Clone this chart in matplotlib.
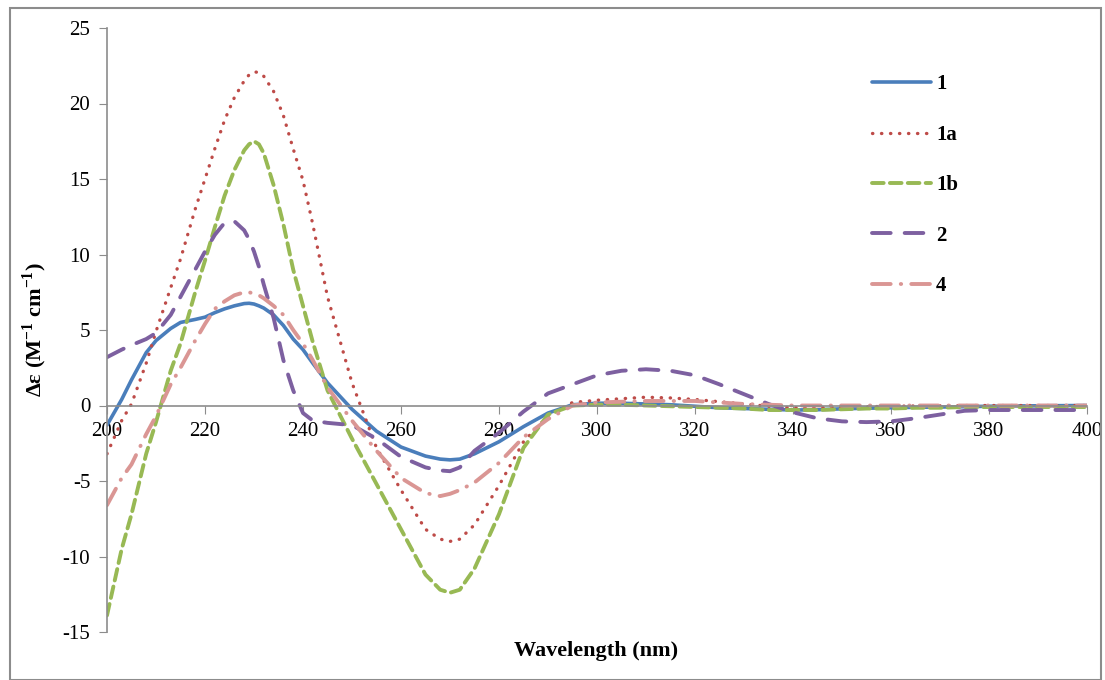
import matplotlib
matplotlib.use("Agg")
import matplotlib.pyplot as plt
from matplotlib.patches import Rectangle

plt.rcParams['font.family'] = ['Liberation Serif', 'DejaVu Serif']
plt.rcParams['axes.unicode_minus'] = False

# wavelengths (nm)
wl = [200, 203, 205, 208, 210, 213, 215, 218, 220, 222, 224, 226, 228, 229, 230, 231, 232, 234, 236, 238,
      240, 242, 245, 250, 255, 260, 265, 268, 270, 272, 275, 280, 285, 290, 295, 300, 305, 310,
      315, 320, 325, 330, 335, 340, 345, 350, 355, 360, 365, 370, 375, 380, 390, 400]

s1 = [-1.3, 0.4, 1.7, 3.5, 4.3, 5.1, 5.5, 5.7, 5.85, 6.15, 6.4, 6.6, 6.75, 6.77, 6.72, 6.6, 6.45, 6.0, 5.3, 4.4,
      3.7, 2.8, 1.5, -0.25, -1.7, -2.75, -3.35, -3.55, -3.6, -3.55, -3.2, -2.4, -1.4, -0.5, 0.05, 0.15, 0.15, 0.1,
      0.05, -0.05, -0.15, -0.2, -0.25, -0.3, -0.28, -0.22, -0.18, -0.15, -0.12, -0.1, -0.08, -0.05, -0.02, 0.0]

s1a = [-3.2, -1.0, 0.1, 2.8, 4.9, 7.8, 9.7, 13.0, 15.0, 17.0, 18.9, 20.4, 21.5, 21.9, 22.1, 22.05, 21.8, 20.8, 19.2, 17.0,
       14.9, 12.0, 7.2, 1.5, -2.8, -5.6, -8.2, -8.85, -9.0, -8.85, -7.9, -5.3, -2.4, -0.7, 0.2, 0.35, 0.45, 0.55,
       0.5, 0.4, 0.25, 0.1, -0.05, -0.15, -0.15, -0.1, -0.08, -0.05, -0.03, -0.02, 0.0, 0.0, 0.0, 0.0]

s1b = [-13.9, -9.5, -7.2, -3.2, -1.1, 2.3, 4.1, 7.5, 9.6, 11.8, 13.9, 15.6, 16.9, 17.3, 17.5, 17.3, 16.7, 14.6, 12.0, 9.0,
       6.6, 4.2, 1.0, -2.2, -5.2, -8.2, -11.2, -12.2, -12.4, -12.2, -10.8, -7.2, -2.8, -0.6, 0.0, 0.05, 0.05, 0.0,
       -0.05, -0.1, -0.15, -0.2, -0.3, -0.3, -0.3, -0.25, -0.2, -0.2, -0.15, -0.15, -0.1, -0.1, -0.1, -0.1]

s2 = [3.2, 3.7, 4.0, 4.4, 4.8, 6.0, 7.2, 9.0, 10.2, 11.3, 12.1, 12.2, 11.6, 11.0, 10.2, 9.2, 8.0, 5.8, 3.0, 1.0,
      -0.5, -1.0, -1.15, -1.3, -2.2, -3.4, -4.1, -4.3, -4.35, -4.1, -3.0, -1.8, -0.4, 0.8, 1.4, 2.0, 2.3, 2.4,
      2.3, 2.0, 1.4, 0.75, 0.1, -0.45, -0.85, -1.05, -1.1, -1.05, -0.85, -0.6, -0.35, -0.3, -0.3, -0.3]

s4 = [-6.6, -4.8, -3.9, -1.9, -0.7, 1.4, 2.5, 4.3, 5.4, 6.4, 6.9, 7.3, 7.5, 7.5, 7.4, 7.3, 7.1, 6.6, 6.0, 5.0,
      4.1, 3.0, 1.2, -1.0, -3.0, -4.8, -5.8, -6.0, -5.85, -5.6, -5.1, -3.8, -2.1, -0.9, 0.0, 0.2, 0.25, 0.3,
      0.3, 0.3, 0.2, 0.1, 0.05, 0.0, 0.0, 0.0, 0.0, 0.0, 0.0, 0.0, 0.0, 0.0, 0.0, 0.0]

labels = ['1', '1a', '1b', '2', '4']
colors = ['#4A7EBB', '#BE4B48', '#98B954', '#7D60A0', '#DA9694']

fig = plt.figure(figsize=(11.05, 6.8), dpi=100)
ax = fig.add_axes([107/1105, 1 - 632/680, (1087 - 107)/1105, (632 - 28)/680])

ax.plot(wl, s1, color=colors[0], lw=2.6, solid_capstyle='round', label=labels[0])
ax.plot(wl, s1a, color=colors[1], lw=2.4, linestyle=(0, (0.1, 2.6)), dash_capstyle='round', label=labels[1])
ax.plot(wl, s1b, color=colors[2], lw=2.8, linestyle=(0, (3.0, 1.6)), dash_capstyle='round', label=labels[2])
ax.plot(wl, s2, color=colors[3], lw=2.8, linestyle=(0, (4.8, 3.6)), dash_capstyle='round', label=labels[3])
ax.plot(wl, s4, color=colors[4], lw=2.8, linestyle=(0, (4.8, 2.6, 0.1, 2.6)), dash_capstyle='round', label=labels[4])

ax.set_xlim(200, 400)
ax.set_ylim(-15, 25)
ax.set_xticks(range(200, 401, 20))
ax.set_yticks(range(-15, 26, 5))

for s in ['top', 'right']:
    ax.spines[s].set_visible(False)
ax.spines['bottom'].set_position(('data', 0))
ax.spines['bottom'].set_color('#8C8C8C')
ax.spines['left'].set_color('#8C8C8C')
ax.spines['bottom'].set_linewidth(1.2)
ax.spines['left'].set_linewidth(1.2)
ax.tick_params(axis='x', direction='out', length=6, color='#8C8C8C', labelsize=15, pad=6)
ax.tick_params(axis='y', direction='out', length=6, color='#8C8C8C', labelsize=15, pad=6)

ax.set_ylabel('Δε (M$^{\\mathregular{-1}}$ cm$^{\\mathregular{-1}}$)', fontsize=16, fontweight='bold', labelpad=10)
fig.text(596/1105, 1 - 651/680, 'Wavelength (nm)', ha='center', va='center', fontsize=16, fontweight='bold')

leg = ax.legend(loc='upper left', bbox_to_anchor=(862/1105, 1 - 64/680), bbox_transform=fig.transFigure,
                frameon=False, prop={'family': 'Liberation Serif', 'weight': 'bold', 'size': 15},
                handlelength=2.8, labelspacing=1.46, handletextpad=0.25, borderpad=0)

fig.patches.append(Rectangle((10/1105, 0), (1101 - 10)/1105, 1 - 8/680, transform=fig.transFigure,
                             fill=False, edgecolor='#8C8C8C', lw=1.5))

fig.savefig('out.png', dpi=100)
